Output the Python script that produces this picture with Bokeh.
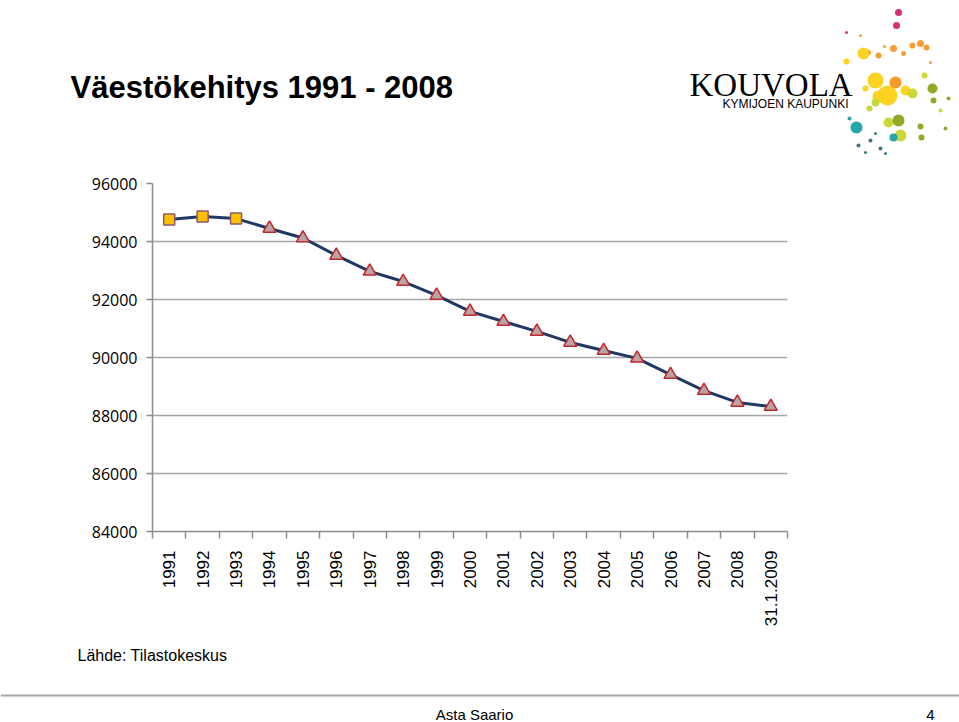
import math
from bokeh.plotting import figure
from bokeh.models import (Range1d, LinearAxis, FixedTicker, Label, CustomJSTickFormatter)
from bokeh.embed import file_html
from bokeh.resources import INLINE

# ---------------- data ----------------
years = ["1991", "1992", "1993", "1994", "1995", "1996", "1997", "1998", "1999",
         "2000", "2001", "2002", "2003", "2004", "2005", "2006", "2007", "2008",
         "31.1.2009"]
population = [94760, 94860, 94790, 94450, 94120, 93520, 92970, 92620, 92140,
              91590, 91240, 90900, 90520, 90240, 89970, 89410, 88860, 88450,
              88310]
square_count = 3  # first years drawn with square markers
y_ticks = [84000, 86000, 88000, 90000, 92000, 94000, 96000]
y_min, y_max = 84000, 96000

title_text = "Väestökehitys 1991 - 2008"
logo_text = "KOUVOLA"
logo_sub = "KYMIJOEN KAUPUNKI"
source_text = "Lähde: Tilastokeskus"
footer_author = "Asta Saario"
footer_page = "4"

n_cat = len(years)
x_pos = [i + 0.5 for i in range(n_cat)]  # centre of each category slot

# ---------------- layout (page pixels) ----------------
W = 959
TOP_H = 160          # header band 0..160
MAIN_BOTTOM = 640    # chart band 160..640
TOTAL_H = 722
FL, FR, FT, FB = 152, 787, 183, 531  # plot frame edges

# ---------------- header ----------------
top = figure(width=W, height=TOP_H, x_range=Range1d(0, W), y_range=Range1d(TOP_H, 0),
             output_backend="svg", toolbar_location=None,
             x_axis_location=None, y_axis_location=None, min_border=0)
top.outline_line_color = None
top.grid.visible = False


def lab(fig, y0, text, px, py, size, font="Liberation Sans", style="normal",
        align="left", baseline="middle", color="black"):
    fig.add_layout(Label(x=px, y=py - y0, text=text, text_font=font,
                         text_font_size=f"{size}px", text_font_style=style,
                         text_align=align, text_baseline=baseline,
                         text_color=color))


lab(top, 0, title_text, 70, 87, 31, style="bold")
lab(top, 0, logo_text, 689, 84, 33, font="Liberation Serif")
lab(top, 0, logo_sub, 722, 103, 12)

logo_dots = [
    (898, 12, 3.5, "#d6246e"), (896, 25, 3.5, "#d6246e"), (846, 32, 1.5, "#d6246e"),
    (868, 52, 2.5, "#f39a2b"), (878, 55, 3, "#f39a2b"), (893, 48, 3.5, "#f39a2b"),
    (912, 45, 3, "#f39a2b"), (920, 43, 3.5, "#f39a2b"), (926, 47, 3, "#f39a2b"),
    (903, 53, 2.5, "#f39a2b"), (884, 46, 1.5, "#f39a2b"), (860, 35, 1.5, "#f39a2b"),
    (930, 62, 1.5, "#f39a2b"),
    (863, 53, 6, "#fcd116"), (846, 61, 3, "#fcd116"), (875, 80, 8, "#fcd116"),
    (887, 95, 10, "#fcd116"), (878, 96, 6, "#fcd116"), (865, 88, 3, "#fcd116"),
    (905, 90, 5, "#fcd116"), (895, 82, 6, "#f7941d"),
    (912, 93, 5, "#c8d630"), (875, 102, 4, "#c8d630"), (869, 108, 3, "#c8d630"),
    (888, 122, 5, "#c8d630"), (900, 135, 6, "#c8d630"), (924, 75, 3, "#c8d630"),
    (940, 110, 2, "#c8d630"),
    (932, 88, 5, "#8aa51c"), (933, 100, 3, "#8aa51c"), (898, 120, 6, "#8aa51c"),
    (920, 126, 3, "#8aa51c"), (921, 137, 3, "#8aa51c"), (948, 98, 2, "#8aa51c"),
    (945, 128, 2, "#8aa51c"),
    (856, 127, 6, "#1aa0a6"), (893, 137, 4, "#1aa0a6"), (849, 118, 2, "#1aa0a6"),
    (870, 140, 2, "#2a6f7b"), (880, 148, 2, "#2a6f7b"), (858, 145, 2, "#2a6f7b"),
    (865, 152, 1.5, "#2a6f7b"), (875, 133, 1.5, "#2a6f7b"), (885, 153, 1.5, "#2a6f7b"),
]
top.circle(x=[d[0] for d in logo_dots], y=[d[1] for d in logo_dots],
           radius=[d[2] for d in logo_dots], fill_color=[d[3] for d in logo_dots],
           fill_alpha=0.95, line_color=None)

# ---------------- main chart ----------------
p = figure(width=W, height=MAIN_BOTTOM - TOP_H,
           x_range=Range1d(0, n_cat), y_range=Range1d(y_min, y_max),
           output_backend="svg", toolbar_location=None,
           x_axis_location=None, y_axis_location="left",
           min_border_left=FL, min_border_right=W - FR,
           min_border_top=FT - TOP_H, min_border_bottom=MAIN_BOTTOM - FB)
p.outline_line_color = None

p.yaxis.ticker = FixedTicker(ticks=y_ticks)
p.yaxis.axis_line_color = "#8c8c8c"
p.yaxis.axis_line_width = 1.5
p.yaxis.major_tick_line_color = "#8c8c8c"
p.yaxis.major_tick_line_width = 1.5
p.yaxis.major_tick_out = 6
p.yaxis.major_tick_in = 0
p.yaxis.minor_tick_line_color = None
p.yaxis.major_label_text_font = "Open Sans"
p.yaxis.major_label_text_font_size = "16px"
p.yaxis.major_label_text_color = "black"
p.yaxis.major_label_standoff = 9
p.ygrid.ticker = FixedTicker(ticks=y_ticks)
p.ygrid.grid_line_color = "#a6a6a6"
p.ygrid.grid_line_width = 1.5
p.xgrid.visible = False

tick_axis = LinearAxis(ticker=FixedTicker(ticks=list(range(n_cat + 1))),
                       formatter=CustomJSTickFormatter(code="return ''"),
                       major_label_text_font_size="0px", major_label_standoff=0,
                       major_tick_out=7, major_tick_in=0,
                       minor_tick_line_color=None,
                       axis_line_color="#8c8c8c", axis_line_width=1.5,
                       major_tick_line_color="#8c8c8c", major_tick_line_width=1.5)
p.add_layout(tick_axis, "below")
label_axis = LinearAxis(ticker=FixedTicker(ticks=x_pos),
                        formatter=CustomJSTickFormatter(
                            args=dict(labels=years),
                            code="return labels[Math.round(tick - 0.5)]"),
                        major_label_orientation=math.pi / 2,
                        axis_line_color=None, major_tick_line_color=None,
                        minor_tick_line_color=None, major_label_standoff=6,
                        major_label_text_font="Liberation Sans",
                        major_label_text_font_size="17px",
                        major_label_text_color="black")
p.add_layout(label_axis, "below")

p.line(x=x_pos, y=population, line_color="#1f3864", line_width=3)
p.scatter(x=x_pos[:square_count], y=population[:square_count], marker="square",
          size=11, fill_color="#ffc000", line_color="#8b5a6e", line_width=1.5)
p.scatter(x=x_pos[square_count:], y=population[square_count:], marker="triangle",
          size=13, fill_color="#baa3a3", line_color="#c0282d", line_width=1.5)

# ---------------- footer ----------------
BOT_H = TOTAL_H - MAIN_BOTTOM
bot = figure(width=W, height=BOT_H, x_range=Range1d(0, W), y_range=Range1d(BOT_H, 0),
             output_backend="svg", toolbar_location=None,
             x_axis_location=None, y_axis_location=None, min_border=0)
bot.outline_line_color = None
bot.grid.visible = False
lab(bot, MAIN_BOTTOM, source_text, 77, 655, 16)
bot.segment(x0=[0], y0=[695 - MAIN_BOTTOM], x1=[W], y1=[695 - MAIN_BOTTOM],
            line_color="#a6a6a6", line_width=2)
lab(bot, MAIN_BOTTOM, footer_author, 474, 714, 15, align="center")
lab(bot, MAIN_BOTTOM, footer_page, 934, 714, 15, align="right")

open("out.html", "w").write(file_html([top, p, bot], INLINE))
